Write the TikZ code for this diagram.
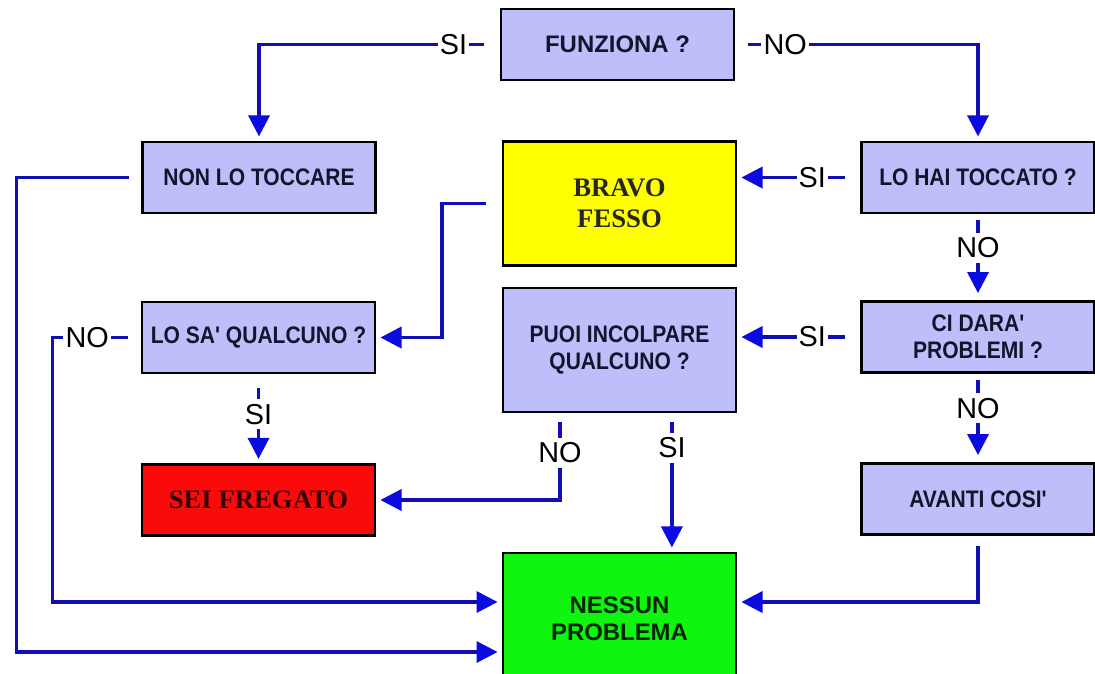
\documentclass[tikz,border=0pt]{standalone}
\usepackage{fontspec}
\setmainfont{Liberation Sans}
\newfontfamily\stretta{Liberation Sans}[FakeStretch=0.88]
\newfontfamily\serifa{Liberation Serif}
\usetikzlibrary{arrows.meta}

\definecolor{lilla}{RGB}{190,190,250}
\definecolor{blu}{RGB}{15,15,180}
\definecolor{bluvivo}{RGB}{10,10,225}
\definecolor{inchiostro}{RGB}{20,20,45}
\definecolor{giallo}{RGB}{255,255,0}
\definecolor{rosso}{RGB}{250,10,10}
\definecolor{verde}{RGB}{15,245,15}

\begin{document}
\begin{tikzpicture}[x=0.025cm, y=-0.025cm,
    scatola/.style={draw, line width=1.8pt, fill=lilla, text=inchiostro, align=center,
        minimum width=5.82cm, minimum height=1.78cm, inner sep=0pt,
        font=\stretta\bfseries\fontsize{17}{19}\selectfont},
    grande/.style={scatola, minimum height=3.1cm},
    freccia/.style={draw=blu, line width=2.4pt, -{Triangle[length=15pt,width=15pt,color=bluvivo]}, shorten >=3pt},
    etich/.style={fill=white, inner xsep=1.5pt, inner ysep=3.5pt, font=\fontsize{20.5}{20.5}\selectfont}]
        \useasboundingbox (0,0) rectangle (1095,673);
        \clip (0,0) rectangle (1095,673);

        % Caselle del diagramma
        \node[scatola, font=\bfseries\fontsize{17}{19}\selectfont] (funziona) at (617.5,44.5) {FUNZIONA ?};
        \node[scatola] (nontoccare) at (259,177.5) {NON LO TOCCARE};
        \node[grande, fill=giallo, text=black!85, font=\serifa\bfseries\fontsize{19}{22}\selectfont] (bravo) at (619.5,203.5) {BRAVO\\FESSO};
        \node[scatola] (toccato) at (978,177.5) {LO HAI TOCCATO ?};
        \node[scatola] (losa) at (258.5,337.5) {LO SA' QUALCUNO ?};
        \node[grande] (incolpare) at (619.5,350) {PUOI INCOLPARE\\QUALCUNO ?};
        \node[scatola] (problemi) at (978,337) {CI DARA'\\PROBLEMI ?};
        \node[scatola, fill=rosso, text=black!80!red, font=\serifa\bfseries\fontsize{19}{22}\selectfont] (fregato) at (258.5,500) {SEI FREGATO};
        \node[scatola] (avanti) at (978,499) {AVANTI COSI'};
        \node[scatola, fill=verde, minimum height=3.3cm, text=black!85!green, font=\bfseries\fontsize{17}{19}\selectfont] (nessun) at (619.5,619) {NESSUN\\PROBLEMA};

        % Prima domanda
        \draw[freccia, shorten <=11pt] (funziona.west) -| node[etich, pos=0.096] (siA) {SI} (nontoccare.north);
        \draw[freccia, shorten <=9pt] (funziona.east) -| node[etich, pos=0.103] (noA) {NO} (toccato.north);

        % Colonna di destra
        \draw[freccia, shorten <=11pt] (toccato.west) -- node[etich, pos=0.39] (siB) {SI} (toccato.west -| bravo.east);
        \draw[freccia, shorten <=4pt, shorten >=5pt] (toccato.south) -- node[etich, pos=0.39] (noB) {NO} (problemi.north);
        \draw[freccia, shorten <=11pt] (problemi.west) -- node[etich, pos=0.39] (siC) {SI} (problemi.west -| incolpare.east);
        \draw[freccia, shorten <=4pt, shorten >=5pt] (problemi.south) -- node[etich, pos=0.39] (noC) {NO} (avanti.north);
        \draw[freccia, shorten <=7pt] (avanti.south) |- ([yshift=0.425cm]nessun.east);

        % Colonna centrale
        \draw[freccia, shorten <=11pt] (bravo.west) -- ++(-60,0) |- (losa.east);
        \draw[freccia, shorten <=6pt] ([xshift=1.31cm]incolpare.south) -- node[etich, pos=0.25] (siE) {SI} ([xshift=1.31cm]nessun.north);
        \draw[freccia, shorten <=6pt] ([xshift=-1.49cm]incolpare.south) |- node[etich, pos=0.227] (noE) {NO} (fregato.east);

        % Colonna di sinistra
        \draw[freccia, shorten <=10pt] (losa.south) -- node[etich, pos=0.45] (siD) {SI} (fregato.north);
        \draw[freccia, shorten <=9pt] (losa.west) -- node[etich, pos=0.61] (noD) {NO} ++(-88,0) |- ([yshift=0.425cm]nessun.west);
        \draw[freccia, shorten <=9pt] (nontoccare.west) -- ++(-125,0) |- ([yshift=-0.825cm]nessun.west);
\end{tikzpicture}
\end{document}
